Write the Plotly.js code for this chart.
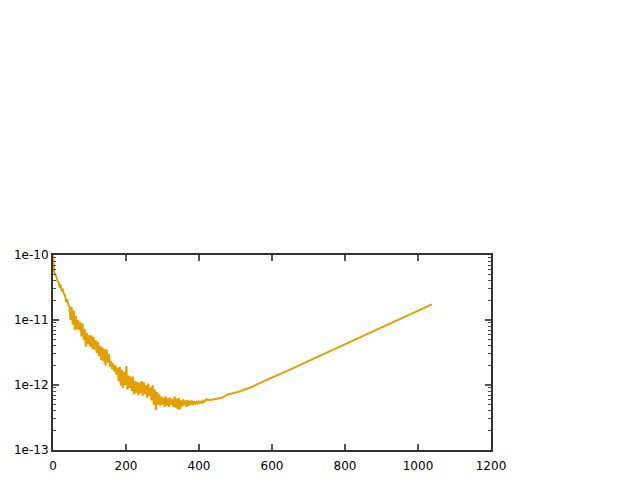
<!DOCTYPE html>
<html>
<head>
<meta charset="utf-8">
<script src="https://cdn.plot.ly/plotly-3.0.1.min.js"></script>
<style>html,body{margin:0;padding:0;background:#fff;}#plot{width:640px;height:480px;}</style>
</head>
<body>
<div id="plot"></div>
<script>
// Noisy early phase (x step 3) and smooth later phase
const xNoisy = [];
for (let i = 0; i <= 140; i++) xNoisy.push(i * 3);
const yNoisy = [
  100e-12, 55e-12, 50e-12, 47e-12, 40e-12, 38e-12, 33e-12, 34e-12, 28e-12, 29e-12,
  25e-12, 24e-12, 19e-12, 21e-12, 17e-12, 16e-12, 10e-12, 16e-12, 8.5e-12, 14e-12,
  7e-12, 11.5e-12, 7.2e-12, 10e-12, 7e-12, 9.2e-12, 5.6e-12, 8.8e-12, 5.0e-12, 7.2e-12,
  3.9e-12, 6.3e-12, 4.2e-12, 5.8e-12, 3.9e-12, 5.8e-12, 3.6e-12, 5.5e-12, 3.5e-12, 4.9e-12,
  3.1e-12, 4.6e-12, 2.8e-12, 4.0e-12, 2.4e-12, 3.8e-12, 2.3e-12, 3.6e-12, 2.0e-12, 3.5e-12,
  2.2e-12, 3.0e-12, 1.9e-12, 2.3e-12, 1.75e-12, 2.15e-12, 1.6e-12, 2.0e-12, 1.45e-12, 1.85e-12,
  1.15e-12, 1.9e-12, 0.98e-12, 1.7e-12, 0.9e-12, 1.6e-12, 1.0e-12, 1.95e-12, 0.85e-12, 1.4e-12,
  0.9e-12, 1.35e-12, 0.8e-12, 1.35e-12, 0.72e-12, 1.15e-12, 0.76e-12, 1.12e-12, 0.7e-12, 1.08e-12,
  0.74e-12, 1.15e-12, 0.68e-12, 1.1e-12, 0.72e-12, 1.0e-12, 0.64e-12, 1.05e-12, 0.68e-12, 0.92e-12,
  0.58e-12, 1.0e-12, 0.5e-12, 0.85e-12, 0.41e-12, 0.78e-12, 0.5e-12, 0.72e-12, 0.48e-12, 0.66e-12,
  0.5e-12, 0.64e-12, 0.46e-12, 0.67e-12, 0.48e-12, 0.62e-12, 0.46e-12, 0.64e-12, 0.5e-12, 0.6e-12,
  0.46e-12, 0.67e-12, 0.45e-12, 0.62e-12, 0.42e-12, 0.63e-12, 0.42e-12, 0.58e-12, 0.47e-12, 0.6e-12,
  0.49e-12, 0.58e-12, 0.46e-12, 0.59e-12, 0.48e-12, 0.57e-12, 0.5e-12, 0.58e-12, 0.49e-12, 0.56e-12,
  0.51e-12, 0.55e-12, 0.52e-12, 0.56e-12, 0.53e-12, 0.55e-12, 0.52e-12, 0.57e-12, 0.55e-12, 0.58e-12,
  0.6e-12
];
const xSmooth = [430, 440, 450, 460, 470, 480, 490, 500, 510, 520, 530, 540, 550, 560, 580, 600,
  620, 640, 660, 680, 700, 720, 740, 760, 780, 800, 820, 840, 860, 880, 900, 920, 940, 960, 980, 1000, 1020, 1038];
const ySmooth = [0.59e-12, 0.6e-12, 0.61e-12, 0.63e-12, 0.67e-12, 0.72e-12, 0.74e-12, 0.76e-12, 0.79e-12, 0.83e-12,
  0.87e-12, 0.91e-12, 0.96e-12, 1.03e-12, 1.15e-12, 1.29e-12,
  1.45e-12, 1.64e-12, 1.84e-12, 2.07e-12, 2.33e-12, 2.62e-12, 2.95e-12, 3.32e-12, 3.74e-12, 4.2e-12,
  4.73e-12, 5.32e-12, 5.99e-12, 6.74e-12, 7.59e-12, 8.54e-12, 9.61e-12, 10.8e-12, 12.2e-12, 13.7e-12, 15.4e-12, 17.4e-12];

const yTickVals = [1e-13, 1e-12, 1e-11, 1e-10];
const yTickText = ['1e-13', '1e-12', '1e-11', '1e-10'];
const xTickVals = [0, 200, 400, 600, 800, 1000, 1200];

const trace = {
  x: xNoisy.concat(xSmooth),
  y: yNoisy.concat(ySmooth),
  type: 'scatter',
  mode: 'lines',
  line: {color: '#e69f00', width: 2},
  hoverinfo: 'none'
};

const axisCommon = {
  showline: true, linecolor: '#333', linewidth: 2, mirror: 'ticks',
  ticks: 'inside', tickcolor: '#555', tickwidth: 1.5, ticklen: 6,
  showgrid: false, zeroline: false,
  tickfont: {family: 'DejaVu Sans, sans-serif', size: 12, color: '#000'}
};

const layout = {
  width: 640, height: 480,
  margin: {l: 53, r: 149, t: 255, b: 30, pad: 0},
  paper_bgcolor: '#fff', plot_bgcolor: '#fff',
  showlegend: false,
  xaxis: Object.assign({}, axisCommon, {
    range: [0, 1200], tickvals: xTickVals, ticktext: xTickVals.map(String),
    ticklabelstandoff: 4
  }),
  yaxis: Object.assign({}, axisCommon, {
    type: 'log', range: [-13, -10], tickvals: yTickVals, ticktext: yTickText,
    minor: {ticks: 'inside', ticklen: 3, tickcolor: '#555', tickwidth: 1, dtick: 'D1', showgrid: false}
  })
};

Plotly.newPlot('plot', [trace], layout, {staticPlot: true, displayModeBar: false});
</script>
</body>
</html>
